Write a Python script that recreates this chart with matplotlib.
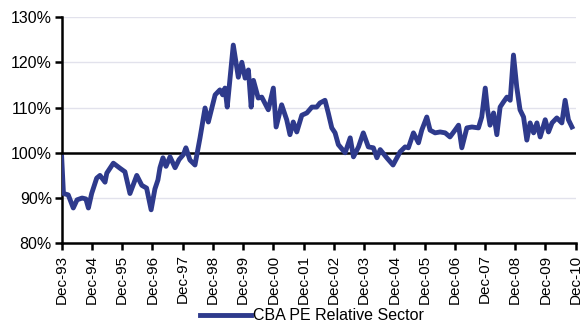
import matplotlib
matplotlib.use("Agg")
import matplotlib.pyplot as plt

# months since Dec-93
months = [0, 0.7, 2.6, 4.6, 6.1, 8.1, 9.6, 10.6, 11.9, 13.9, 15.2, 17.2, 17.9, 20.5,
          23.1, 25.1, 27.1, 29.8, 31.8, 33.7, 35.5, 37.0, 38.2, 39.0, 40.2, 41.4,
          43.0, 45.0, 46.6, 48.3, 49.3, 50.9, 52.9, 54.9, 56.9, 58.2, 60.9, 62.8,
          63.9, 64.8, 65.7, 68.1, 70.1, 71.5, 72.8, 74.1, 75.2, 76.1, 78.0, 79.4,
          82.0, 84.0, 85.1, 87.3, 89.3, 90.6, 91.9, 93.3, 95.3, 97.3, 99.3, 101.2,
          102.5, 104.5, 105.8, 107.2, 108.5, 109.8, 112.5, 114.5, 115.8, 117.8,
          119.7, 121.7, 123.7, 125.1, 126.4, 129.0, 131.5, 134.3, 136.3, 137.6,
          139.6, 141.6, 142.9, 144.9, 146.2, 148.2, 150.2, 152.2, 154.1, 156.1,
          157.5, 158.8, 160.8, 162.8, 165.4, 166.7, 168.1, 169.0, 170.0, 171.4,
          172.7, 174.0, 175.3, 176.7, 178.0, 179.3, 180.6, 181.9, 183.3, 184.6,
          185.9, 187.3, 188.6, 189.9, 191.9, 193.2, 194.6, 196.5, 198.5, 199.8,
          201.1, 202.5]
values = [99, 91, 90.7, 87.8, 89.6, 90, 89.8, 87.8, 91, 94.4, 95, 93.5, 95.5, 97.7,
          96.6, 95.8, 91, 95, 92.8, 92.2, 87.4, 92, 94, 96.7, 98.9, 97,
          99.1, 96.7, 98.5, 99.6, 101.1, 98.4, 97.3, 103.3, 109.9, 106.8, 112.8, 113.9,
          112.8, 114.3, 110.1, 123.8, 116.7, 120, 116.5, 118.3, 110.1, 116, 112.1, 112.3,
          109.5, 114.3, 105.7, 110.6, 107.3, 104, 106.8, 104.6, 108.3, 108.8, 110.1, 110.1,
          111, 111.6, 108.8, 105.5, 104.4, 101.8, 100, 103.3, 99.1, 101.3,
          104.4, 101.3, 101.1, 98.9, 100.7, 98.9, 97.3, 100.2, 101.3, 101.1,
          104.4, 102.2, 105, 107.9, 105, 104.4, 104.6, 104.4, 103.5, 105,
          106.1, 101.1, 105.5, 105.7, 105.5, 107.9, 114.3, 109.5, 106.1, 108.8,
          104, 110.1, 111.2, 112.3, 111.6, 121.6, 114.5, 109.5, 107.9, 102.8,
          106.6, 104.4, 106.6, 103.5, 107.3, 104.6, 106.6, 107.7, 106.6, 111.6,
          107.3, 105.7]

tick_labels = ['Dec-93', 'Dec-94', 'Dec-95', 'Dec-96', 'Dec-97', 'Dec-98', 'Dec-99',
               'Dec-00', 'Dec-01', 'Dec-02', 'Dec-03', 'Dec-04', 'Dec-05', 'Dec-06',
               'Dec-07', 'Dec-08', 'Dec-09', 'Dec-10']
y_ticks = [80, 90, 100, 110, 120, 130]
series_name = 'CBA PE Relative Sector'

plt.rcParams['font.family'] = ['Liberation Sans', 'DejaVu Sans']

fig = plt.figure(figsize=(5.83, 3.31), dpi=100)
ax = fig.add_axes([0.1058, 0.265, 0.8817, 0.6836])

for yv in [90, 110, 120, 130]:
    ax.axhline(yv, color='#e2e2ec', lw=1.0, zorder=0)
ax.axhline(100, color='black', lw=1.8, zorder=2)

line, = ax.plot(months, values, color='#2e3a8c', lw=3.5, solid_joinstyle='round',
                zorder=3, label=series_name)

ax.set_xlim(0, 12 * (len(tick_labels) - 1))
ax.set_ylim(80, 130)
ax.set_xticks([12 * i for i in range(len(tick_labels))])
ax.set_xticklabels(tick_labels, rotation=90, fontsize=11)
ax.set_yticks(y_ticks)
ax.set_yticklabels([f'{v}%' for v in y_ticks], fontsize=11.5)

for s in ['top', 'right']:
    ax.spines[s].set_visible(False)
for s in ['left', 'bottom']:
    ax.spines[s].set_linewidth(1.8)
    ax.spines[s].set_color('black')
ax.tick_params(axis='both', direction='out', length=5, width=1.8, colors='black', pad=2)
ax.tick_params(axis='x', pad=3)

fig.legend(handles=[line], loc='lower center', bbox_to_anchor=(0.535, -0.02),
           frameon=False, fontsize=11.5, handlelength=3.2, handletextpad=0.15)

fig.savefig('out.png', dpi=100, facecolor='white')
